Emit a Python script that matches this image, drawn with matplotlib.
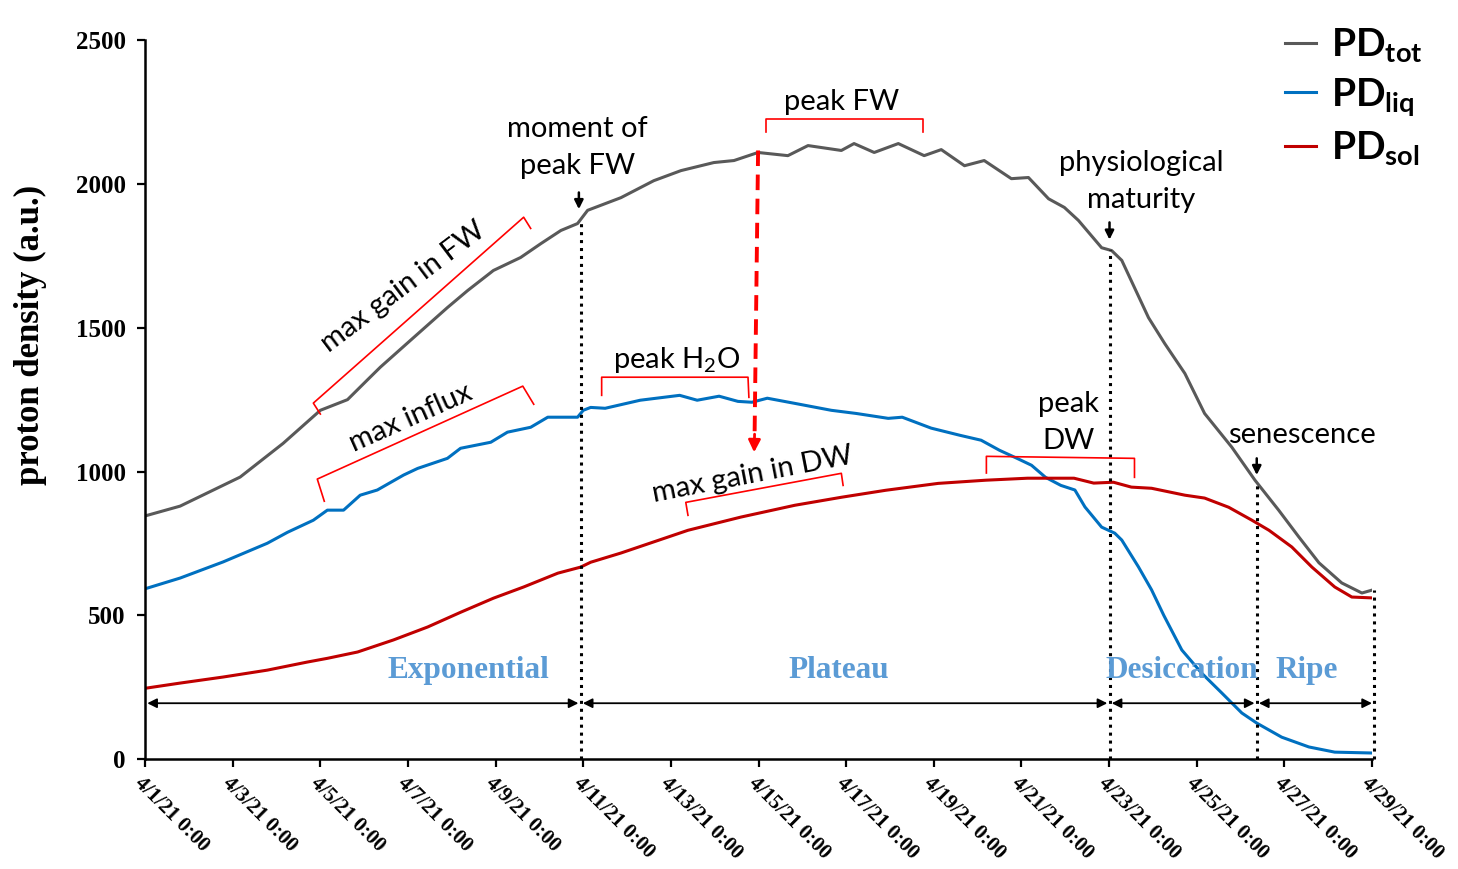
import matplotlib
matplotlib.use("Agg")
import matplotlib.pyplot as plt
import matplotlib.dates as mdates
import numpy as np
import pandas as pd

plt.rcParams["mathtext.default"] = "regular"

# time since 4/1/21 0:00 in days, with proton density (a.u.)
t_tot = [0.05, 0.8, 2.17, 3.15, 4.0, 4.62, 5.07, 5.37, 6.13, 6.9, 7.36, 7.95,
         8.57, 9.03, 9.49, 9.87, 10.1, 10.86, 11.61, 12.23, 12.98, 13.44, 13.99,
         14.67, 15.13, 15.89, 16.18, 16.64, 17.19, 17.78, 18.17, 18.7, 19.15,
         19.77, 20.16, 20.62, 20.98, 21.3, 21.83, 22.06, 22.29, 22.9, 23.27,
         23.73, 24.18, 24.8, 25.33, 25.87, 26.33, 26.79, 27.31, 27.77, 28.0]
pd_tot = [848, 880, 981, 1098, 1213, 1250, 1318, 1363, 1466, 1570, 1629, 1699,
          1744, 1792, 1838, 1862, 1908, 1952, 2011, 2046, 2074, 2081, 2109,
          2098, 2133, 2116, 2140, 2109, 2140, 2098, 2119, 2063, 2081,
          2018, 2022, 1948, 1918, 1873, 1778, 1768, 1734, 1535, 1445,
          1341, 1202, 1085, 970, 866, 773, 683, 613, 578, 588]

t_liq = [0.05, 0.8, 1.78, 2.79, 3.25, 3.84, 4.16, 4.53, 4.91, 5.3, 5.9, 6.22,
         6.9, 7.2, 7.89, 8.27, 8.8, 9.19, 9.87, 10.0, 10.17, 10.5, 11.3, 12.2,
         12.6, 13.1, 13.53, 13.85, 14.2, 14.83, 15.66, 16.23, 16.96, 17.28,
         17.94, 18.6, 19.08, 19.5, 19.9, 20.23, 20.55, 20.9, 21.22, 21.45,
         21.83, 22.13, 22.29, 22.67, 22.97, 23.25, 23.66, 24.11, 24.57, 25.03,
         25.37, 25.94, 26.56, 27.15, 28.0]
pd_liq = [595, 630, 686, 751, 789, 831, 866, 866, 918, 936, 988, 1011,
          1046, 1081, 1102, 1137, 1154, 1189, 1189, 1213, 1223, 1220, 1248, 1265,
          1248, 1262, 1244, 1241, 1255, 1237, 1213, 1202, 1185, 1189,
          1151, 1126, 1109, 1074, 1046, 1022, 980, 952, 936, 877,
          807, 786, 762, 669, 589, 500, 380, 300, 231, 161,
          126, 77, 43, 25, 22]

t_sol = [0.05, 0.8, 1.78, 2.79, 3.7, 4.16, 4.85, 5.67, 6.45, 7.2, 7.95, 8.64,
         9.42, 9.94, 10.17, 10.86, 12.39, 13.6, 14.83, 15.9, 16.9, 18.1, 19.18,
         20.14, 21.2, 21.65, 22.1, 22.51, 22.97, 23.73, 24.18, 24.73, 25.26,
         25.65, 26.17, 26.63, 27.15, 27.54, 28.0]
pd_sol = [248, 265, 286, 310, 338, 351, 373, 415, 460, 511, 560, 599,
          647, 668, 685, 717, 796, 842, 883, 911, 935, 959, 970,
          977, 977, 960, 963, 946, 942, 918, 908, 876, 831,
          796, 738, 668, 599, 564, 561]

# phase boundaries (days) and names
phase_edges = [0.0, 9.94, 22.01, 25.37, 28.05]
phase_names = ["Exponential", "Plateau", "Desiccation", "Ripe"]

start = mdates.date2num(pd.Timestamp("2021-04-01"))
tick_days = np.arange(0, 29, 2)

sans = "Lato"
serif = "Liberation Serif"
red = "#FF0000"

fig = plt.figure(figsize=(14.58, 8.69), dpi=100)
ax = fig.add_axes([0.0995, 0.1262, 0.8415, 0.8278])

def X(d):
    return start + np.asarray(d, dtype=float)

l_tot, = ax.plot(X(t_tot), pd_tot, color="#595959", lw=2.2, label="PD$_{tot}$")
l_liq, = ax.plot(X(t_liq), pd_liq, color="#0070C0", lw=2.2, label="PD$_{liq}$")
l_sol, = ax.plot(X(t_sol), pd_sol, color="#C00000", lw=2.2, label="PD$_{sol}$")

ax.set_xlim(X(0), X(28))
ax.set_ylim(0, 2500)
ax.set_yticks(np.arange(0, 2501, 500))
ax.set_xticks(X(tick_days))
ax.xaxis.set_major_formatter(mdates.DateFormatter("%-m/%-d/%y %-H:%M"))
for s in ["top", "right"]:
    ax.spines[s].set_visible(False)
for s in ["left", "bottom"]:
    ax.spines[s].set_linewidth(1.8)
ax.tick_params(direction="out", length=6, width=1.6)
ax.tick_params(axis="y", pad=8)
ax.tick_params(axis="x", pad=4)
for lab in ax.get_yticklabels():
    lab.set_fontfamily(serif)
    lab.set_fontweight("bold")
    lab.set_fontsize(18)
for lab in ax.get_xticklabels():
    lab.set_fontfamily(serif)
    lab.set_fontweight("bold")
    lab.set_fontsize(15)
    lab.set_rotation(-45)
    lab.set_ha("left")
    lab.set_va("top")
    lab.set_rotation_mode("anchor")

ax.set_ylabel("proton density (a.u.)", fontfamily=serif, fontweight="bold", fontsize=25)
ax.yaxis.set_label_coords(-0.08, 0.59)

# vertical dotted markers up to the total curve
for d in phase_edges[1:]:
    top = np.interp(d, t_tot, pd_tot)
    ax.plot([X(d), X(d)], [0, top], color="black", lw=2.2, ls=(0, (1, 1.6)), clip_on=False)

# phase span arrows
for i, name in enumerate(phase_names):
    a, b = phase_edges[i], phase_edges[i + 1]
    ax.annotate("", xy=(X(b - 0.05), 195), xytext=(X(a + 0.05), 195),
                arrowprops=dict(arrowstyle="<|-|>", color="black", lw=1.3,
                                mutation_scale=14, shrinkA=0, shrinkB=0),
                annotation_clip=False)
phase_x = [7.38, 15.84, 23.66, 26.51]
for name, px in zip(phase_names, phase_x):
    ax.text(X(px), 310, name, color="#5B9BD5", fontfamily=serif, fontweight="bold",
            fontsize=22.5, ha="center", va="center")

# event arrows
for d, y0, y1 in [(9.9, 1970, 1912), (22.01, 1866, 1806), (25.37, 1046, 988)]:
    ax.annotate("", xy=(X(d), y1), xytext=(X(d), y0),
                arrowprops=dict(arrowstyle="-|>", color="black", lw=1.8,
                                mutation_scale=13, shrinkA=0, shrinkB=0))

txt = dict(fontfamily=sans, fontsize=21, ha="center", va="center", color="black")
ax.text(X(9.87), 2127, "moment of\npeak FW", linespacing=1.5, **txt)
ax.text(X(15.89), 2283, "peak FW", **txt)
ax.text(X(22.74), 2008, "physiological\nmaturity", linespacing=1.5, **txt)
ax.text(X(26.4), 1126, "senescence", **txt)
ax.text(X(21.07), 1171, "peak\nDW", linespacing=1.5, **txt)
ax.text(X(12.14), 1387, "peak H$_2$O", **txt)
ax.text(X(5.9), 1640, "max gain in FW", rotation=37, rotation_mode="anchor", **txt)
ax.text(X(6.06), 1188, "max influx", rotation=24, rotation_mode="anchor", **txt)
ax.text(X(13.87), 990, "max gain in DW", rotation=11, rotation_mode="anchor", **txt)

# red brackets
brackets = [
    [(4.0, 1200), (3.84, 1238), (8.64, 1884), (8.8, 1845)],
    [(4.09, 897), (3.93, 974), (8.62, 1297), (8.87, 1234)],
    [(14.17, 2179), (14.17, 2224), (17.76, 2224), (17.76, 2179)],
    [(10.42, 1265), (10.42, 1328), (13.76, 1328), (13.78, 1258)],
    [(12.39, 848), (12.34, 893), (15.89, 994), (15.93, 952)],
    [(19.2, 995), (19.2, 1053), (22.58, 1046), (22.58, 980)],
]
for br in brackets:
    bx, by = zip(*br)
    ax.plot(X(bx), by, color=red, lw=1.2)

# dashed transfer arrow from FW peak to DW gain
ax.plot(X([13.99, 13.91]), [2116, 1125], color=red, lw=2.8, ls=(0, (4, 2.2)))
ax.annotate("", xy=(X(13.9), 1067), xytext=(X(13.91), 1130),
            arrowprops=dict(arrowstyle="-|>", color=red, lw=2, mutation_scale=18,
                            shrinkA=0, shrinkB=0))

fig.legend(handles=[l_tot, l_liq, l_sol], loc="upper left",
           bbox_to_anchor=(0.857, 1.01), frameon=False,
           prop=dict(family=sans, weight="bold", size=28),
           handlelength=0.8, handletextpad=0.4, labelspacing=0.3)

fig.savefig("out.png", dpi=100)
